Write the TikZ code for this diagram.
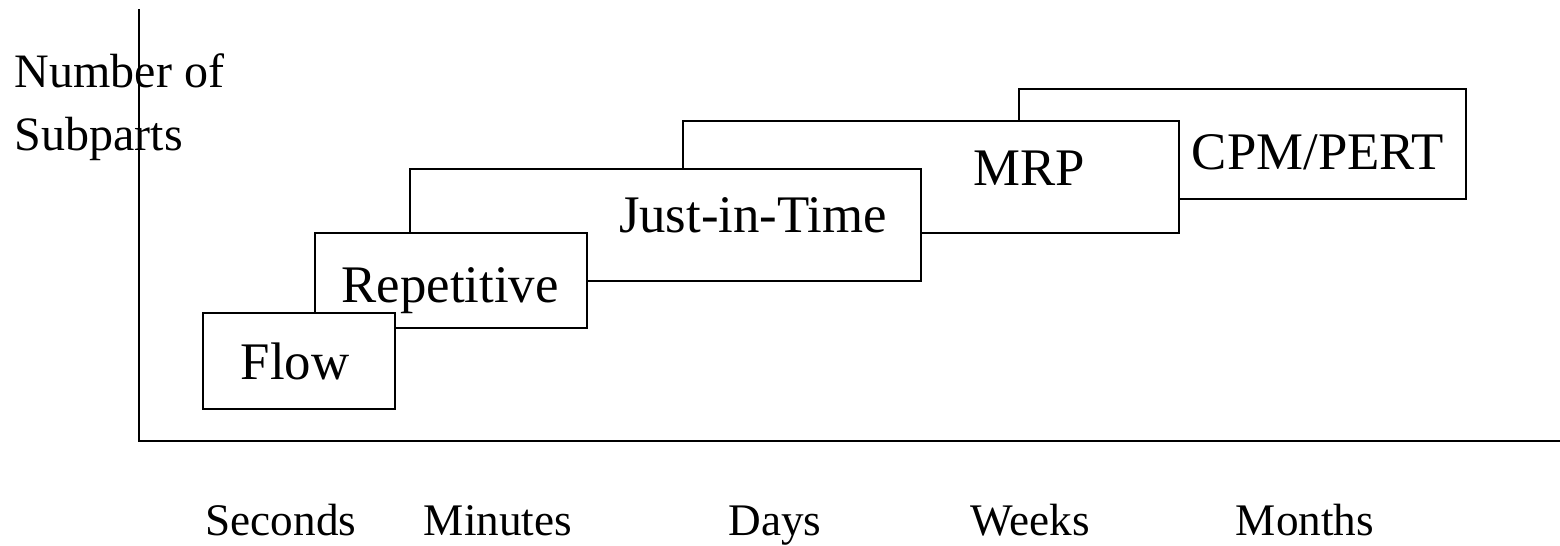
\documentclass[tikz,border=0pt]{standalone}
\usepackage{fontspec}
\setmainfont{Liberation Serif}
\usetikzlibrary{positioning}

\begin{document}
\begin{tikzpicture}[
    x=0.5pt, y=-0.5pt,
    line width=1pt,
    box/.style={rectangle, draw, fill=white, inner sep=0pt},
    boxtxt/.style={anchor=base, inner sep=0pt, font=\fontsize{26.4}{30}\selectfont},
    axtxt/.style={anchor=base, inner sep=0pt, font=\fontsize{22.6}{27}\selectfont},
    ytxt/.style={anchor=base west, inner sep=0pt, font=\fontsize{24}{29}\selectfont},
]
    \useasboundingbox (0,0) rectangle (1560,546);

    % axis title
    \node[ytxt] (ynum) at (14,87) {Number of};
    \node[ytxt] (ysub) at (14,150) {Subparts};

    % axes
    \coordinate (ytop) at (138.5,9);
    \coordinate (origin) at (138.5,441);
    \coordinate (xend) at (1560,441);
    \draw (ytop) -- (origin) -- (xend);

    % time scale
    \node[axtxt] (sec) at (281,535) {Seconds};
    \node[axtxt] (min) at (498,535) {Minutes};
    \node[axtxt] (day) at (775,535) {Days};
    \node[axtxt] (wk)  at (1030,535) {Weeks};
    \node[axtxt] (mon) at (1305,535) {Months};

    % systems, back to front
    \node[box, minimum width=223.5pt, minimum height=55pt] (cpm) at (1242.5,144) {};
    \node[boxtxt] (cpmtxt) at (1318,169) {CPM/PERT};
    \node[box, minimum width=248pt, minimum height=56pt] (mrp) at (931,177) {};
    \node[boxtxt] (mrptxt) at (1029,185) {MRP};
    \node[box, minimum width=255.5pt, minimum height=56pt] (jit) at (665.5,225) {};
    \node[boxtxt] (jittxt) at (753,232) {Just-in-Time};
    \node[box, minimum width=136pt, minimum height=47.5pt] (rep) at (451,280.5) {};
    \node[boxtxt] (reptxt) at (450,302) {Repetitive};
    \node[box, minimum width=96pt, minimum height=48pt] (flow) at (299,361) {};
    \node[boxtxt] (flowtxt) at (295,379) {Flow};
\end{tikzpicture}
\end{document}
